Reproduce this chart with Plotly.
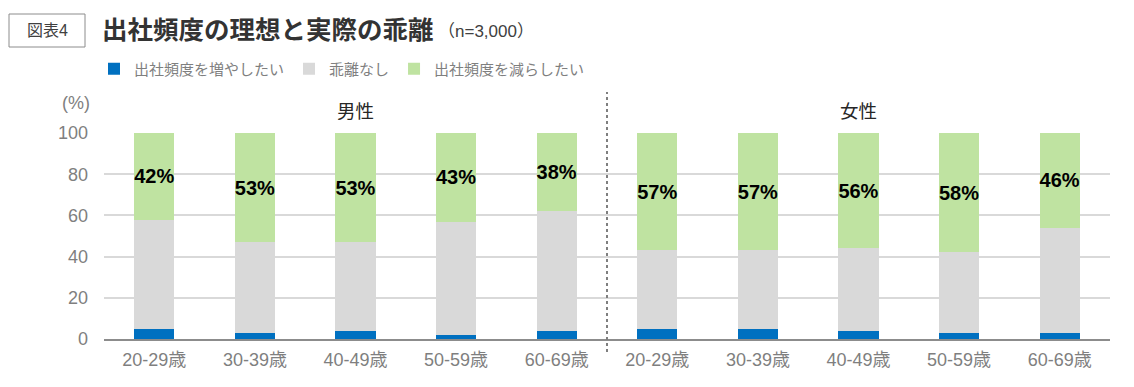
import plotly.graph_objects as go

# ---- data ----
ages = ["20-29歳", "30-39歳", "40-49歳", "50-59歳", "60-69歳"]
groups = ["男性", "女性"]
men_increase = [5, 3, 4, 2, 4]
men_nogap = [53, 44, 43, 55, 58]
men_decrease = [42, 53, 53, 43, 38]
women_increase = [5, 5, 4, 3, 3]
women_nogap = [38, 38, 40, 39, 51]
women_decrease = [57, 57, 56, 58, 46]
series_names = ["出社頻度を増やしたい", "乖離なし", "出社頻度を減らしたい"]
yticks = [0, 20, 40, 60, 80, 100]

# ---- layout geometry (page has an 8px body margin) ----
OFF = 8
PAGE_W, PAGE_H = 1134, 387
W, H = PAGE_W - OFF, PAGE_H - OFF
PL, PR, PT, PB = 104, 1110, 133, 339  # plot area in page pixels
L, R, T, B = PL - OFF, W - (PR - OFF), PT - OFF, H - (PB - OFF)
PW, PH = PR - PL, PB - PT


def xp(px):
    return (px - PL) / PW


def yp(py):
    return (PB - py) / PH


FONT = "Liberation Sans, Arial, Noto Sans CJK JP, sans-serif"
GREY = "#7f7f7f"
colors = ["#0070C0", "#D9D9D9", "#BFE3A1"]

labels = ages + ages
xpos = list(range(len(labels)))
inc = men_increase + women_increase
nog = men_nogap + women_nogap
dec = men_decrease + women_decrease

fig = go.Figure()
fig.add_bar(x=xpos, y=inc, name=series_names[0], marker_color=colors[0],
            marker_line_width=0, hoverinfo="skip")
fig.add_bar(x=xpos, y=nog, name=series_names[1], marker_color=colors[1],
            marker_line_width=0, hoverinfo="skip")
fig.add_bar(x=xpos, y=dec, name=series_names[2], marker_color=colors[2],
            marker_line_width=0, hoverinfo="skip",
            text=[f"{v}%" for v in dec], textposition="inside",
            insidetextanchor="middle", textangle=0, constraintext="none",
            textfont=dict(family=FONT, size=20, color="black", weight="bold"))

fig.update_layout(
    width=W, height=H,
    margin=dict(l=L, r=R, t=T, b=B),
    paper_bgcolor="white", plot_bgcolor="white",
    barmode="stack", bargap=0.6,
    font=dict(family=FONT, color=GREY),
    showlegend=True,
    legend=dict(orientation="h", x=xp(94), y=yp(69), xanchor="left",
                yanchor="middle", font=dict(size=15, color=GREY),
                traceorder="normal", itemwidth=30, tracegroupgap=0),
    xaxis=dict(range=[-0.5, len(labels) - 0.5], tickvals=xpos, ticktext=labels,
               showgrid=False, zeroline=False, showline=True, linecolor="#8c8c8c",
               linewidth=2, ticks="", ticklabelstandoff=3,
               tickfont=dict(size=18, color=GREY), fixedrange=True),
    yaxis=dict(range=[0, 100], tickvals=yticks, showgrid=True, gridcolor="#D9D9D9",
               gridwidth=1.5, zeroline=False, showline=False, ticks="",
               ticklabelstandoff=15, tickfont=dict(size=18, color=GREY),
               fixedrange=True),
)

# separator between male and female groups
fig.add_shape(type="line", xref="x", yref="paper", x0=4.5, x1=4.5,
              y0=yp(352), y1=yp(92), line=dict(color="#7f7f7f", width=2, dash="dot"))

# figure label box
fig.add_shape(type="rect", xref="paper", yref="paper", x0=xp(9), x1=xp(85),
              y0=yp(47), y1=yp(14), line=dict(color="#8c8c8c", width=1))

ann = [
    dict(text="図表4", x=xp(47), y=yp(30.5), xanchor="center", yanchor="middle",
         font=dict(size=16, color="#404040")),
    dict(text="<b>出社頻度の理想と実際の乖離</b>", x=xp(100), y=yp(30), xanchor="left",
         yanchor="middle", font=dict(size=25.5, color="#333333")),
    dict(text="（n=3,000）", x=xp(436), y=yp(31), xanchor="left", yanchor="middle",
         font=dict(size=17, color="#404040")),
    dict(text="(%)", x=xp(76), y=yp(103), xanchor="center", yanchor="middle",
         font=dict(size=18, color=GREY)),
    dict(text=groups[0], x=2, xref="x", y=yp(111), xanchor="center", yanchor="middle",
         font=dict(size=18.5, color="#262626")),
    dict(text=groups[1], x=7, xref="x", y=yp(111), xanchor="center", yanchor="middle",
         font=dict(size=18.5, color="#262626")),
]
for a in ann:
    a.setdefault("xref", "paper")
    a["yref"] = "paper"
    a["showarrow"] = False
    fig.add_annotation(**a)

fig.write_html("out.html")
